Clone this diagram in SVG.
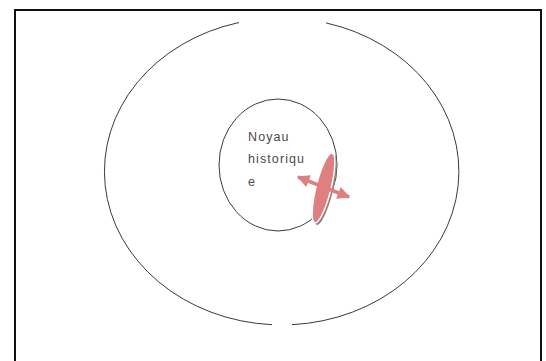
<svg xmlns="http://www.w3.org/2000/svg" width="546" height="361" viewBox="0 0 546 361">
<style>
.frame{fill:none;stroke:#111;stroke-width:2}
.ring{fill:none;stroke:#3a3a3a;stroke-width:1}
.lbl{font-family:"Liberation Sans",Arial,sans-serif;font-size:12.5px;fill:#4a4a4a;letter-spacing:1.1px}
.pink{fill:#e07f7f}
</style>
<defs>
<marker id="ah" viewBox="0 0 10 10" refX="9" refY="5" markerWidth="3.8" markerHeight="3.6" orient="auto-start-reverse" markerUnits="strokeWidth">
<path d="M0,0 L10,5 L0,10 z" fill="#e07f7f"/>
</marker>
</defs>
<rect width="546" height="361" fill="#fff"/>
<rect class="frame" x="15" y="10" width="526" height="400"/>
<g id="outer">
<path class="ring" d="M326,22.9 A177.5,153.5 0 0 1 292,324.7 M272,324.7 A177.5,153.5 0 0 1 239,22.5"/>
</g>
<g id="noyau">
<ellipse class="ring" cx="278" cy="165" rx="59" ry="66"/>
<text class="lbl" x="248" y="141">Noyau</text>
<text class="lbl" x="248" y="163">historiqu</text>
<text class="lbl" x="248" y="186">e</text>
</g>
<g id="symbol">
<ellipse cx="325.5" cy="190" rx="7.5" ry="36" fill="#9e8080" transform="rotate(14 325.5 190)"/>
<ellipse class="pink" cx="323.5" cy="188" rx="7.5" ry="36" stroke="#fff" stroke-width="1.5" transform="rotate(14 323.5 188)"/>
</g>
<g id="connectors">
<line x1="298" y1="177" x2="349" y2="197" stroke="#e07f7f" stroke-width="3.5" marker-start="url(#ah)" marker-end="url(#ah)"/>
</g>
</svg>
